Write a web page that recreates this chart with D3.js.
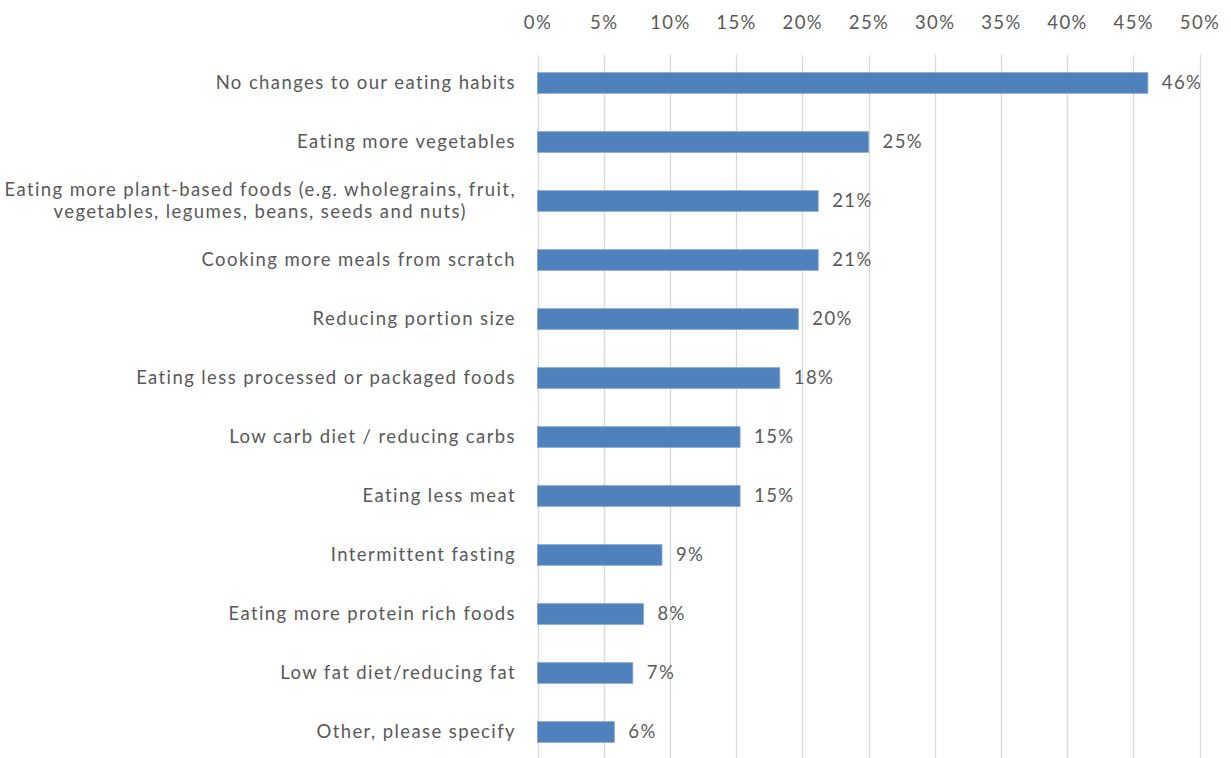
<!DOCTYPE html>
<html>
<head>
<meta charset="utf-8">
<script src="https://cdn.jsdelivr.net/npm/d3@7"></script>
<style>
  html, body { margin: 0; padding: 0; background: #ffffff; }
  svg { display: block; font-family: Lato, "Open Sans", sans-serif; }
  svg text { font-size: 18.5px; letter-spacing: 1.4px; fill: #595959; }
</style>
</head>
<body>
<svg id="chart" width="1231" height="758"></svg>
<script>
// Survey answers, top to bottom (labels may span several lines)
const categories = [
  ["No changes to our eating habits"],
  ["Eating more vegetables"],
  ["Eating more plant-based foods (e.g. wholegrains, fruit,", "vegetables, legumes, beans, seeds and nuts)"],
  ["Cooking more meals from scratch"],
  ["Reducing portion size"],
  ["Eating less processed or packaged foods"],
  ["Low carb diet / reducing carbs"],
  ["Eating less meat"],
  ["Intermittent fasting"],
  ["Eating more protein rich foods"],
  ["Low fat diet/reducing fat"],
  ["Other, please specify"]
];
// Share of respondents (percent)
const shares = [46.1, 25.0, 21.2, 21.2, 19.7, 18.3, 15.3, 15.3, 9.4, 8.0, 7.2, 5.8];
// Axis ticks (percent)
const tickValues = [0, 5, 10, 15, 20, 25, 30, 35, 40, 45, 50];

const svg = d3.select("#chart");
const pct = d => d3.format(".0f")(d) + "%";

const x = d3.scaleLinear().domain([0, 50]).range([537.5, 1199.5]);
const y = d3.scaleBand()
  .domain(d3.range(categories.length))
  .range([53.5, 761.5])
  .paddingInner(0.65)
  .paddingOuter(0.325);

// Vertical gridlines
svg.append("g")
  .selectAll("line")
  .data(tickValues)
  .join("line")
  .attr("x1", d => Math.round(x(d)) + 0.5)
  .attr("x2", d => Math.round(x(d)) + 0.5)
  .attr("y1", 55)
  .attr("y2", 758)
  .attr("stroke", "#d9d9d9")
  .attr("stroke-width", 1.3);

// Top axis labels
const xAxis = d3.axisTop(x).tickValues(tickValues).tickFormat(pct).tickSize(0).tickPadding(0);
const gx = svg.append("g").attr("transform", "translate(0,29)").call(xAxis);
gx.select(".domain").remove();
gx.attr("font-family", null).attr("font-size", null);
gx.selectAll("text").attr("fill", null).attr("dy", 0);

// Bars
svg.append("g")
  .selectAll("rect")
  .data(shares)
  .join("rect")
  .attr("x", x(0))
  .attr("y", (d, i) => y(i))
  .attr("width", d => x(d) - x(0))
  .attr("height", y.bandwidth())
  .attr("fill", "#4f81bd")
  .attr("stroke", "#7fa3d3")
  .attr("stroke-width", 0.8);

// Value labels
svg.append("g")
  .selectAll("text")
  .data(shares)
  .join("text")
  .attr("x", d => x(d) + 14)
  .attr("y", (d, i) => y(i) + y.bandwidth() / 2)
  .attr("dy", "0.35em")
  .text(pct);

// Category labels, right-aligned; wrapped labels centre their lines
const labelRight = 516;
const lineHeight = 22;
const catG = svg.append("g");
categories.forEach((lines, i) => {
  const cy = y(i) + y.bandwidth() / 2;
  const t = catG.append("text");
  lines.forEach((ln, j) => {
    t.append("tspan")
      .attr("y", cy + (j - (lines.length - 1) / 2) * lineHeight)
      .attr("dy", "0.35em")
      .text(ln);
  });
  if (lines.length === 1) {
    t.attr("text-anchor", "end").selectAll("tspan").attr("x", labelRight);
  } else {
    const widest = d3.max(t.selectAll("tspan").nodes(), n => n.getComputedTextLength());
    t.attr("text-anchor", "middle").selectAll("tspan").attr("x", labelRight - widest / 2);
  }
});
</script>
</body>
</html>
